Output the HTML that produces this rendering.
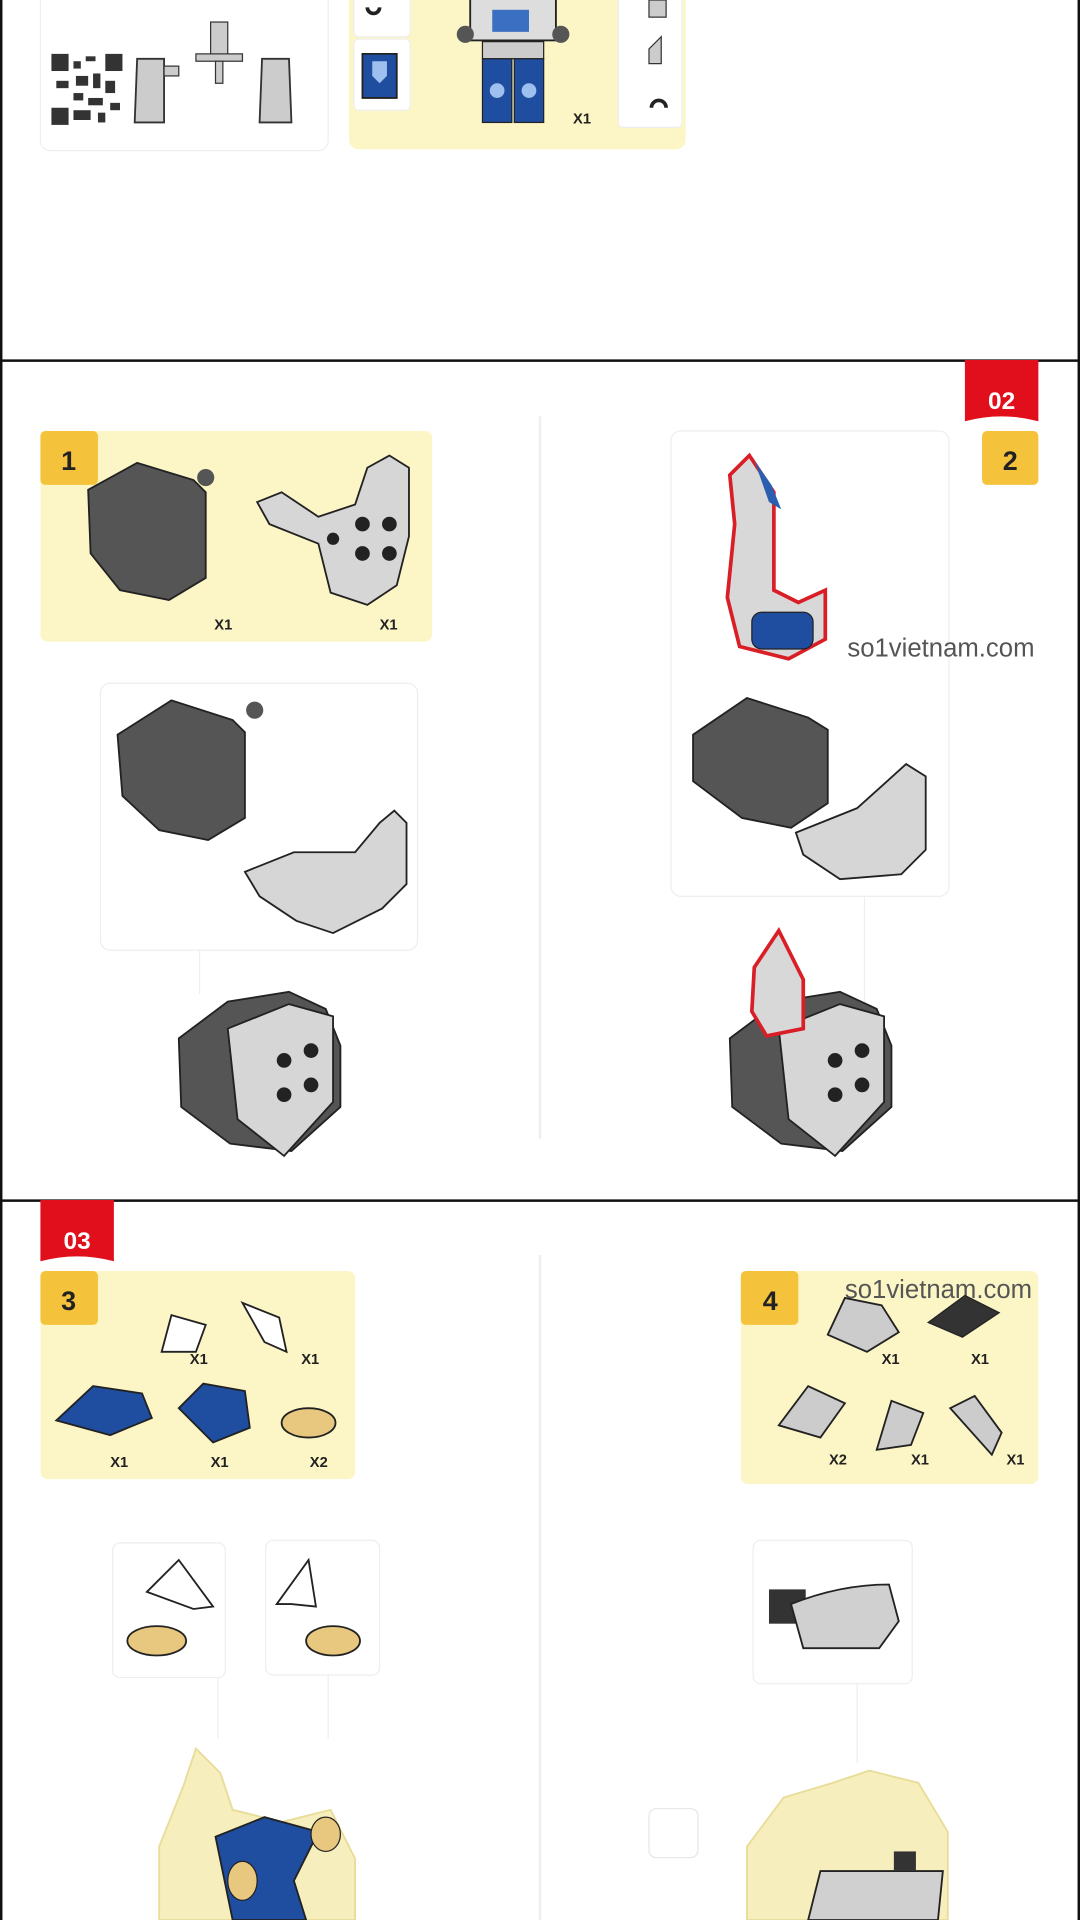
<!DOCTYPE html>
<html><head><meta charset="utf-8"><style>
html,body{margin:0;padding:0;background:#fff;width:1080px;height:1920px;overflow:hidden}
svg{display:block}
text{font-family:"Liberation Sans",sans-serif}
</style></head><body>
<svg width="1080" height="1920" viewBox="0 0 882 1568" preserveAspectRatio="none" xmlns="http://www.w3.org/2000/svg">
<rect width="882" height="1568" fill="#fff"/>
<!-- frame -->
<line x1="1" y1="0" x2="1" y2="1568" stroke="#111" stroke-width="2"/>
<line x1="881" y1="0" x2="881" y2="1568" stroke="#111" stroke-width="2"/>
<line x1="0" y1="294.5" x2="882" y2="294.5" stroke="#111" stroke-width="2"/>
<line x1="0" y1="980.5" x2="882" y2="980.5" stroke="#111" stroke-width="2"/>

<!-- top section -->
<rect x="33" y="-10" width="235" height="133" rx="8" fill="#fff" stroke="#eee"/>
<rect x="42" y="44" width="58" height="58" fill="#fff"/>
<g fill="#333">
<rect x="42" y="44" width="14" height="14"/><rect x="86" y="44" width="14" height="14"/><rect x="42" y="88" width="14" height="14"/>
<rect x="60" y="50" width="6" height="6"/><rect x="70" y="46" width="8" height="4"/><rect x="62" y="62" width="10" height="8"/><rect x="76" y="60" width="6" height="12"/><rect x="46" y="66" width="10" height="6"/><rect x="60" y="76" width="8" height="6"/><rect x="72" y="80" width="12" height="6"/><rect x="86" y="66" width="8" height="10"/><rect x="60" y="90" width="14" height="8"/><rect x="80" y="92" width="6" height="8"/><rect x="90" y="84" width="8" height="6"/>
</g>
<path d="M112 48 h22 v52 h-24z" fill="#ccc" stroke="#333" stroke-width="1.5"/>
<path d="M214 48 h22 l2 52 h-26z" fill="#ccc" stroke="#333" stroke-width="1.5"/>
<rect x="160" y="44" width="38" height="6" fill="#ccc" stroke="#333"/>
<rect x="172" y="18" width="14" height="26" fill="#ccc" stroke="#333"/>
<rect x="176" y="50" width="6" height="18" fill="#ccc" stroke="#333"/>
<rect x="134" y="54" width="12" height="8" fill="#ccc" stroke="#333"/>

<rect x="285" y="-10" width="275" height="132" rx="8" fill="#fcf6c6"/>
<rect x="289" y="32" width="46" height="58" rx="4" fill="#fff" stroke="#eee"/>
<path d="M296 44 h28 v36 h-28z" fill="#1f4ea0" stroke="#222" stroke-width="1.5"/>
<path d="M304 50 h12 v12 l-6 6 l-6 -6z" fill="#9ec0ee"/>
<rect x="289" y="-10" width="46" height="40" rx="4" fill="#fff" stroke="#eee"/>
<path d="M300 6 a5 5 0 1 0 10 0" fill="none" stroke="#222" stroke-width="3"/>
<rect x="505" y="-10" width="52" height="114" rx="4" fill="#fff" stroke="#eee"/>
<path d="M530 40 l10 -10 v22 h-10z" fill="#ccc" stroke="#333"/>
<path d="M532 88 a5 5 0 1 1 12 0" fill="none" stroke="#222" stroke-width="3"/>
<rect x="530" y="0" width="14" height="14" fill="#ccc" stroke="#333"/>
<!-- figure -->
<rect x="384" y="-5" width="70" height="38" fill="#ddd" stroke="#222" stroke-width="1.5"/>
<circle cx="380" cy="28" r="7" fill="#555"/><circle cx="458" cy="28" r="7" fill="#555"/>
<rect x="402" y="8" width="30" height="18" fill="#3a6fc2"/>
<rect x="394" y="34" width="50" height="14" fill="#ccc" stroke="#222"/>
<rect x="394" y="48" width="24" height="52" fill="#1f4ea0" stroke="#222"/>
<rect x="420" y="48" width="24" height="52" fill="#1f4ea0" stroke="#222"/>
<circle cx="406" cy="74" r="6" fill="#9ec0ee"/><circle cx="432" cy="74" r="6" fill="#9ec0ee"/>
<text x="468" y="101" font-size="12" font-weight="bold" fill="#222">X1</text>

<!-- section 2 left -->
<line x1="441" y1="340" x2="441" y2="930" stroke="#eee" stroke-width="2"/>
<rect x="33" y="352" width="320" height="172" rx="6" fill="#fcf6c6"/>
<rect x="33" y="352" width="47" height="44" rx="4" fill="#f5c33b"/>
<text x="56" y="384" font-size="22" font-weight="bold" fill="#222" text-anchor="middle">1</text>
<path d="M72 400 l40 -22 l46 14 l10 10 v70 l-30 18 l-40 -8 l-24 -30z" fill="#555" stroke="#222" stroke-width="1.5"/>
<circle cx="168" cy="390" r="7" fill="#555"/>
<path d="M210 410 l20 -8 l30 20 l30 -10 l10 -30 l18 -10 l16 10 v56 l-10 40 l-24 16 l-30 -10 l-10 -40 l-40 -16z" fill="#d6d6d6" stroke="#222" stroke-width="1.5"/>
<g fill="#222"><circle cx="296" cy="428" r="6"/><circle cx="318" cy="428" r="6"/><circle cx="296" cy="452" r="6"/><circle cx="318" cy="452" r="6"/><circle cx="272" cy="440" r="5"/></g>
<text x="175" y="514" font-size="12" font-weight="bold" fill="#222">X1</text>
<text x="310" y="514" font-size="12" font-weight="bold" fill="#222">X1</text>
<rect x="82" y="558" width="259" height="218" rx="8" fill="#fff" stroke="#eee"/>
<path d="M96 600 l44 -28 l50 16 l10 10 v70 l-30 18 l-40 -8 l-30 -28z" fill="#555" stroke="#222" stroke-width="1.5"/>
<circle cx="208" cy="580" r="7" fill="#555"/>
<path d="M200 712 l40 -16 l50 0 l20 -24 l12 -10 l10 10 v50 l-20 20 l-40 20 l-30 -10 l-30 -20z" fill="#d6d6d6" stroke="#222" stroke-width="1.5"/>
<line x1="163" y1="776" x2="163" y2="812" stroke="#eee"/>
<path d="M146 848 l40 -30 l50 -8 l30 14 l12 30 v50 l-40 36 l-50 -6 l-40 -30z" fill="#555" stroke="#222" stroke-width="1.5"/>
<path d="M186 840 l50 -20 l36 10 v70 l-40 44 l-38 -30z" fill="#d6d6d6" stroke="#222" stroke-width="1.5"/>
<g fill="#222"><circle cx="232" cy="866" r="6"/><circle cx="254" cy="858" r="6"/><circle cx="232" cy="894" r="6"/><circle cx="254" cy="886" r="6"/></g>

<!-- section 2 right -->
<path d="M788 294 h60 v50 q-30 -8 -60 0z" fill="#e10e1c"/>
<text x="818" y="334" font-size="20" font-weight="bold" fill="#fff" text-anchor="middle">02</text>
<rect x="802" y="352" width="46" height="44" rx="4" fill="#f5c33b"/>
<text x="825" y="384" font-size="22" font-weight="bold" fill="#222" text-anchor="middle">2</text>
<rect x="548" y="352" width="227" height="380" rx="8" fill="#fff" stroke="#eee"/>
<path d="M612 372 l20 30 v80 l20 10 l22 -10 v40 l-30 16 l-40 -10 l-10 -40 l6 -60 l-4 -40z" fill="#d8d8d8" stroke="#d91e26" stroke-width="3"/>
<path d="M616 376 l14 20 l8 20 l-10 -6z" fill="#2a5fb0"/>
<rect x="614" y="500" width="50" height="30" rx="8" fill="#1f4ea0" stroke="#222"/>
<text x="692" y="536" font-size="21" fill="#555">so1vietnam.com</text>
<path d="M566 600 l44 -30 l50 16 l16 10 v60 l-30 20 l-40 -8 l-40 -30z" fill="#555" stroke="#222" stroke-width="1.5"/>
<path d="M650 680 l50 -20 l40 -36 l16 10 v60 l-20 20 l-50 4 l-30 -20z" fill="#d6d6d6" stroke="#222" stroke-width="1.5"/>
<line x1="706" y1="732" x2="706" y2="820" stroke="#eee"/>
<path d="M596 848 l40 -30 l50 -8 l30 14 l12 30 v50 l-40 36 l-50 -6 l-40 -30z" fill="#555" stroke="#222" stroke-width="1.5"/>
<path d="M636 840 l50 -20 l36 10 v70 l-40 44 l-38 -30z" fill="#d6d6d6" stroke="#222" stroke-width="1.5"/>
<g fill="#222"><circle cx="682" cy="866" r="6"/><circle cx="704" cy="858" r="6"/><circle cx="682" cy="894" r="6"/><circle cx="704" cy="886" r="6"/></g>
<path d="M616 790 l20 -30 l20 40 v40 l-30 6 l-12 -20z" fill="#d8d8d8" stroke="#d91e26" stroke-width="3"/>

<!-- section 3 -->
<line x1="441" y1="1025" x2="441" y2="1568" stroke="#eee" stroke-width="2"/>
<path d="M33 980 h60 v50 q-30 -8 -60 0z" fill="#e10e1c"/>
<text x="63" y="1020" font-size="20" font-weight="bold" fill="#fff" text-anchor="middle">03</text>
<rect x="33" y="1038" width="257" height="170" rx="6" fill="#fcf6c6"/>
<rect x="33" y="1038" width="47" height="44" rx="4" fill="#f5c33b"/>
<text x="56" y="1070" font-size="22" font-weight="bold" fill="#222" text-anchor="middle">3</text>
<path d="M132 1104 l8 -30 l28 8 l-8 22z" fill="#fff" stroke="#222" stroke-width="1.5"/>
<path d="M198 1064 l30 12 l6 28 l-18 -8z" fill="#fff" stroke="#222" stroke-width="1.5"/>
<text x="155" y="1114" font-size="12" font-weight="bold" fill="#222">X1</text>
<text x="246" y="1114" font-size="12" font-weight="bold" fill="#222">X1</text>
<path d="M46 1160 l30 -28 l40 6 l8 20 l-34 14z" fill="#1f4ea0" stroke="#222" stroke-width="1.5"/>
<path d="M146 1150 l20 -20 l34 6 l4 30 l-30 12z" fill="#1f4ea0" stroke="#222" stroke-width="1.5"/>
<ellipse cx="252" cy="1162" rx="22" ry="12" fill="#e8c77e" stroke="#222" stroke-width="1.5"/>
<text x="90" y="1198" font-size="12" font-weight="bold" fill="#222">X1</text>
<text x="172" y="1198" font-size="12" font-weight="bold" fill="#222">X1</text>
<text x="253" y="1198" font-size="12" font-weight="bold" fill="#222">X2</text>

<rect x="605" y="1038" width="243" height="174" rx="6" fill="#fcf6c6"/>
<rect x="605" y="1038" width="47" height="44" rx="4" fill="#f5c33b"/>
<text x="629" y="1070" font-size="22" font-weight="bold" fill="#222" text-anchor="middle">4</text>
<text x="690" y="1060" font-size="21" fill="#555">so1vietnam.com</text>
<path d="M676 1090 l14 -30 l30 6 l14 22 l-26 16z" fill="#ccc" stroke="#222" stroke-width="1.5"/>
<path d="M758 1080 l30 -22 l28 14 l-30 20z" fill="#333" stroke="#222"/>
<text x="720" y="1114" font-size="12" font-weight="bold" fill="#222">X1</text>
<text x="793" y="1114" font-size="12" font-weight="bold" fill="#222">X1</text>
<path d="M636 1164 l24 -32 l30 14 l-20 28z" fill="#ccc" stroke="#222" stroke-width="1.5"/>
<path d="M716 1184 l12 -40 l26 10 l-10 26z" fill="#ccc" stroke="#222" stroke-width="1.5"/>
<path d="M776 1150 l20 -10 l22 30 l-8 18z" fill="#ccc" stroke="#222" stroke-width="1.5"/>
<text x="677" y="1196" font-size="12" font-weight="bold" fill="#222">X2</text>
<text x="744" y="1196" font-size="12" font-weight="bold" fill="#222">X1</text>
<text x="822" y="1196" font-size="12" font-weight="bold" fill="#222">X1</text>

<rect x="92" y="1260" width="92" height="110" rx="6" fill="#fff" stroke="#eee"/>
<path d="M120 1300 l26 -26 l28 38 l-16 2z" fill="#fff" stroke="#222" stroke-width="1.5"/>
<ellipse cx="128" cy="1340" rx="24" ry="12" fill="#e8c77e" stroke="#222" stroke-width="1.5"/>
<rect x="217" y="1258" width="93" height="110" rx="6" fill="#fff" stroke="#eee"/>
<path d="M226 1310 l26 -36 l6 38 l-20 -2z" fill="#fff" stroke="#222" stroke-width="1.5"/>
<ellipse cx="272" cy="1340" rx="22" ry="12" fill="#e8c77e" stroke="#222" stroke-width="1.5"/>
<rect x="615" y="1258" width="130" height="117" rx="6" fill="#fff" stroke="#eee"/>
<rect x="628" y="1298" width="30" height="28" fill="#333"/>
<path d="M646 1310 q40 -16 80 -16 l8 30 l-16 22 h-62z" fill="#d0d0d0" stroke="#222" stroke-width="1.5"/>
<rect x="530" y="1477" width="40" height="40" rx="6" fill="#fff" stroke="#e6e6e6"/>
<line x1="178" y1="1370" x2="178" y2="1420" stroke="#eee"/>
<line x1="268" y1="1368" x2="268" y2="1420" stroke="#eee"/>
<line x1="700" y1="1375" x2="700" y2="1440" stroke="#eee"/>

<!-- faded figures -->
<path d="M130 1568 v-60 l20 -50 l10 -30 l20 20 l10 30 l40 10 l40 -10 l20 40 v50z" fill="#f6eebc" stroke="#e8dc98" stroke-width="1.5"/>
<path d="M176 1500 l40 -16 l44 12 l-20 40 l10 32 h-60 z" fill="#1f4ea0" stroke="#222" stroke-width="1.5"/>
<ellipse cx="198" cy="1536" rx="12" ry="16" fill="#e8c77e" stroke="#222"/>
<ellipse cx="266" cy="1498" rx="12" ry="14" fill="#e8c77e" stroke="#222"/>
<path d="M610 1568 v-60 l30 -40 l40 -12 l30 -10 l40 10 l24 40 v72z" fill="#f6eebc" stroke="#e8dc98" stroke-width="1.5"/>
<path d="M660 1568 l10 -40 h100 l-4 40z" fill="#d0d0d0" stroke="#222" stroke-width="1.5"/>
<rect x="730" y="1512" width="18" height="16" fill="#333"/>
</svg>
</body></html>
